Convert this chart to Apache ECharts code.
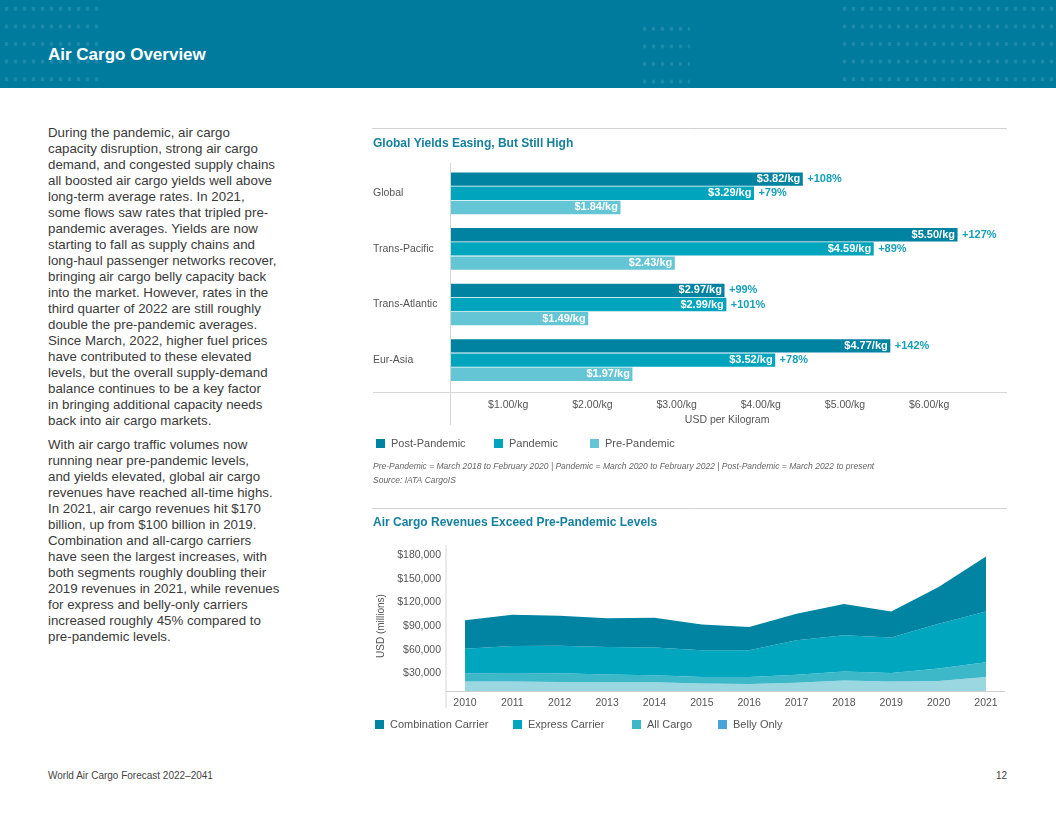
<!DOCTYPE html>
<html>
<head>
<meta charset="utf-8">
<script src="https://cdn.jsdelivr.net/npm/echarts@6/dist/echarts.min.js"></script>
<style>
html,body{margin:0;padding:0;width:1056px;height:816px;background:#fff;overflow:hidden;font-family:"Liberation Sans",Arial,Helvetica,sans-serif;}
#header{position:absolute;left:0;top:0;width:1056px;height:88px;background:#007b9d;}
.dots{position:absolute;background-image:radial-gradient(circle, rgba(255,255,255,0.11) 1.7px, transparent 2.2px);background-size:9px 17.6px;}
#htitle{position:absolute;left:48px;top:45px;color:#fff;font-weight:bold;font-size:17px;line-height:20px;}
.para{position:absolute;left:48px;font-size:13.3px;line-height:16px;color:#3a3a3a;white-space:nowrap;}
#footL{position:absolute;left:48px;top:770px;font-size:10px;color:#444;}
#footR{position:absolute;right:49px;top:770px;font-size:10px;color:#444;}
#chart{position:absolute;left:0;top:0;width:1056px;height:816px;}
</style>
</head>
<body>
<div id="header">
  <div class="dots" style="left:2px;top:0;width:100px;height:88px;"></div>
  <div class="dots" style="left:640px;top:20px;width:50px;height:68px;"></div>
  <div class="dots" style="left:840px;top:0;width:216px;height:88px;"></div>
  <div id="htitle">Air Cargo Overview</div>
</div>
<div class="para" style="top:125px;">During the pandemic, air cargo<br>capacity disruption, strong air cargo<br>demand, and congested supply chains<br>all boosted air cargo yields well above<br>long-term average rates. In 2021,<br>some flows saw rates that tripled pre-<br>pandemic averages. Yields are now<br>starting to fall as supply chains and<br>long-haul passenger networks recover,<br>bringing air cargo belly capacity back<br>into the market. However, rates in the<br>third quarter of 2022 are still roughly<br>double the pre-pandemic averages.<br>Since March, 2022, higher fuel prices<br>have contributed to these elevated<br>levels, but the overall supply-demand<br>balance continues to be a key factor<br>in bringing additional capacity needs<br>back into air cargo markets.</div>
<div class="para" style="top:437px;">With air cargo traffic volumes now<br>running near pre-pandemic levels,<br>and yields elevated, global air cargo<br>revenues have reached all-time highs.<br>In 2021, air cargo revenues hit $170<br>billion, up from $100 billion in 2019.<br>Combination and all-cargo carriers<br>have seen the largest increases, with<br>both segments roughly doubling their<br>2019 revenues in 2021, while revenues<br>for express and belly-only carriers<br>increased roughly 45% compared to<br>pre-pandemic levels.</div>
<div id="footL">World Air Cargo Forecast 2022–2041</div>
<div id="footR">12</div>
<div id="chart"></div>
<script>
// ---- Chart 1: yields ----
const regions = ['Global', 'Trans-Pacific', 'Trans-Atlantic', 'Eur-Asia'];
const postPandemic = [3.82, 5.50, 2.97, 4.77];
const pandemic = [3.29, 4.59, 2.99, 3.52];
const prePandemic = [1.84, 2.43, 1.49, 1.97];
const postChange = [108, 127, 99, 142];
const pandemicChange = [79, 89, 101, 78];
const yieldTicks = [1, 2, 3, 4, 5, 6];

// ---- Chart 2: revenues (USD millions) ----
const years = ['2010', '2011', '2012', '2013', '2014', '2015', '2016', '2017', '2018', '2019', '2020', '2021'];
const combination = [35900, 39800, 38000, 36400, 38000, 32600, 29500, 33800, 39700, 33000, 46400, 69700];
const express = [31300, 34200, 35100, 35000, 35100, 33800, 33800, 43500, 46000, 44900, 57000, 64600];
const allCargo = [10500, 10900, 11000, 9800, 8900, 8400, 8900, 10100, 11400, 10900, 15700, 18600];
const bellyOnly = [11900, 11900, 11400, 11000, 11000, 9400, 8900, 10600, 13200, 11900, 12700, 17700];
const revenueTicks = [30000, 60000, 90000, 120000, 150000, 180000];

const FONT = '"Liberation Sans", Arial, Helvetica, sans-serif';
const C_POST = '#0083a1', C_PAN = '#00a4bd', C_PRE = '#64c5d5';
const C_COMB = '#0084a2', C_EXP = '#00a6bd', C_ALL = '#3cb8c9', C_BELLY_AREA = '#9bd7e0', C_BELLY = '#4ba3db';
const PCT = '#17a0b8';
const GRAY = '#555';

function barLabel(changes) {
  return {
    show: true,
    position: 'right',
    distance: 0,
    offset: [-46, 0],
    formatter: function (p) {
      const v = '{v|$' + p.value.toFixed(2) + '/kg}';
      return changes ? v + '{p|+' + changes[p.dataIndex] + '%}' : v;
    },
    rich: {
      v: { color: '#fff', fontWeight: 'bold', fontSize: 11, fontFamily: FONT },
      p: { color: PCT, fontWeight: 'bold', fontSize: 11, fontFamily: FONT, padding: [0, 0, 0, 7] }
    }
  };
}

function areaSeries(name, arr, lineColor, fillColor) {
  return {
    name: name, type: 'line', stack: 'rev', xAxisIndex: 3, yAxisIndex: 3,
    color: lineColor, symbol: 'none', showSymbol: false, smooth: false,
    lineStyle: { width: 0, color: lineColor },
    itemStyle: { color: lineColor },
    areaStyle: { color: fillColor, opacity: 1 },
    emphasis: { disabled: true },
    data: arr
  };
}

function legendItem(name, color, left, top) {
  return {
    left: left, top: top, padding: 0, icon: 'rect', itemWidth: 9, itemHeight: 9, itemGap: 0,
    textStyle: { fontSize: 11, color: GRAY, fontFamily: FONT, padding: [0, 0, 0, 1] },
    selectedMode: false,
    data: [{ name: name, itemStyle: { color: color } }]
  };
}

const chart = echarts.init(document.getElementById('chart'), null, { renderer: 'canvas' });
const option = {
  animation: false,
  textStyle: { fontFamily: FONT },
  grid: [
    { left: 424, top: 163, width: 606.2, height: 229 },             // 0 bar tick labels
    { left: 451, top: 165.5, width: 552.6, height: 222.4 },         // 1 bar data
    { left: 446, top: 555, width: 559, height: 142 },               // 2 revenue tick labels
    { left: 465, top: 555, width: 521, height: 136 },               // 3 revenue data
    { left: 446, top: 555, width: 559, height: 136 }                // 4 revenue baseline
  ],
  xAxis: [
    {
      gridIndex: 0, type: 'value', min: 0, max: 7.2, interval: 1,
      axisLine: { show: false }, axisTick: { show: false }, splitLine: { show: false },
      axisLabel: {
        margin: 8, fontSize: 10.5, color: GRAY,
        formatter: function (v) { return yieldTicks.indexOf(v) >= 0 ? '$' + v.toFixed(2) + '/kg' : ''; }
      },
      name: 'USD per Kilogram', nameLocation: 'middle', nameGap: 23,
      nameTextStyle: { fontSize: 10.5, color: GRAY }
    },
    { gridIndex: 1, type: 'value', min: 0, max: 6, show: false },
    { gridIndex: 2, type: 'value', min: 0, max: 1, show: false },
    {
      gridIndex: 3, type: 'category', data: years, boundaryGap: false,
      axisLine: { show: false }, axisTick: { show: false }, splitLine: { show: false },
      axisLabel: { margin: 7, fontSize: 10.5, color: GRAY, interval: 0 }
    },
    {
      gridIndex: 4, type: 'value', min: 0, max: 1,
      axisLine: { show: true, lineStyle: { color: '#cfcfcf', width: 1 } },
      axisTick: { show: false }, splitLine: { show: false }, axisLabel: { show: false }
    }
  ],
  yAxis: [
    { gridIndex: 0, type: 'value', min: 0, max: 1, show: false },
    {
      gridIndex: 1, type: 'category', data: regions, inverse: true,
      axisLine: { show: false }, axisTick: { show: false },
      axisLabel: { align: 'left', margin: 78, fontSize: 10.5, color: GRAY }
    },
    {
      gridIndex: 2, type: 'value', min: 0, max: 180000, interval: 30000,
      axisLine: { show: false }, axisTick: { show: false }, splitLine: { show: false },
      axisLabel: {
        margin: 5, fontSize: 10.5, color: GRAY,
        formatter: function (v) { return revenueTicks.indexOf(v) >= 0 ? '$' + v.toLocaleString('en-US') : ''; }
      },
      name: 'USD (millions)', nameLocation: 'middle', nameRotate: 90, nameGap: 58,
      nameTextStyle: { fontSize: 10, color: GRAY }
    },
    { gridIndex: 3, type: 'value', min: 0, max: 172400, show: false },
    { gridIndex: 4, type: 'value', min: 0, max: 1, show: false }
  ],
  legend: [
    legendItem('Post-Pandemic', C_POST, 376, 438),
    legendItem('Pandemic', C_PAN, 494, 438),
    legendItem('Pre-Pandemic', C_PRE, 590, 438),
    legendItem('Combination Carrier', C_COMB, 375, 719),
    legendItem('Express Carrier', C_EXP, 513, 719),
    legendItem('All Cargo', C_ALL, 632, 719),
    legendItem('Belly Only', C_BELLY, 718, 719)
  ],
  series: [
    {
      name: 'Post-Pandemic', type: 'bar', xAxisIndex: 1, yAxisIndex: 1,
      barCategoryGap: '25%', barGap: '6%', itemStyle: { color: C_POST },
      label: barLabel(postChange), emphasis: { disabled: true }, data: postPandemic
    },
    {
      name: 'Pandemic', type: 'bar', xAxisIndex: 1, yAxisIndex: 1,
      barCategoryGap: '25%', barGap: '6%', itemStyle: { color: C_PAN },
      label: barLabel(pandemicChange), emphasis: { disabled: true }, data: pandemic
    },
    {
      name: 'Pre-Pandemic', type: 'bar', xAxisIndex: 1, yAxisIndex: 1,
      barCategoryGap: '25%', barGap: '6%', itemStyle: { color: C_PRE },
      label: barLabel(null), emphasis: { disabled: true }, data: prePandemic
    },
    areaSeries('Belly Only', bellyOnly, C_BELLY, C_BELLY_AREA),
    areaSeries('All Cargo', allCargo, C_ALL, C_ALL),
    areaSeries('Express Carrier', express, C_EXP, C_EXP),
    areaSeries('Combination Carrier', combination, C_COMB, C_COMB)
  ],
  graphic: [
    { type: 'line', shape: { x1: 372, y1: 128.5, x2: 1007, y2: 128.5 }, style: { stroke: '#d2d2d2', lineWidth: 1 }, silent: true },
    { type: 'line', shape: { x1: 372, y1: 508.5, x2: 1007, y2: 508.5 }, style: { stroke: '#d2d2d2', lineWidth: 1 }, silent: true },
    { type: 'line', shape: { x1: 373, y1: 392.5, x2: 1007, y2: 392.5 }, style: { stroke: '#d6d6d6', lineWidth: 1 }, silent: true },
    { type: 'line', shape: { x1: 450.5, y1: 163, x2: 450.5, y2: 425 }, style: { stroke: '#d6d6d6', lineWidth: 1 }, silent: true },
    { type: 'line', shape: { x1: 446, y1: 545, x2: 446, y2: 708 }, style: { stroke: '#d6d6d6', lineWidth: 1 }, silent: true },
    { type: 'text', left: 373, top: 138, style: { text: 'Global Yields Easing, But Still High', fill: '#16809f', font: 'bold 12px ' + FONT } },
    { type: 'text', left: 373, top: 517, style: { text: 'Air Cargo Revenues Exceed Pre-Pandemic Levels', fill: '#16809f', font: 'bold 12px ' + FONT } },
    { type: 'text', left: 373, top: 462, style: { text: 'Pre-Pandemic = March 2018 to February 2020 | Pandemic = March 2020 to February 2022 | Post-Pandemic = March 2022 to present', fill: '#666', font: 'italic 8.5px ' + FONT } },
    { type: 'text', left: 373, top: 476, style: { text: 'Source: IATA CargoIS', fill: '#666', font: 'italic 8.5px ' + FONT } }
  ]
};
chart.setOption(option);
</script>
</body>
</html>
